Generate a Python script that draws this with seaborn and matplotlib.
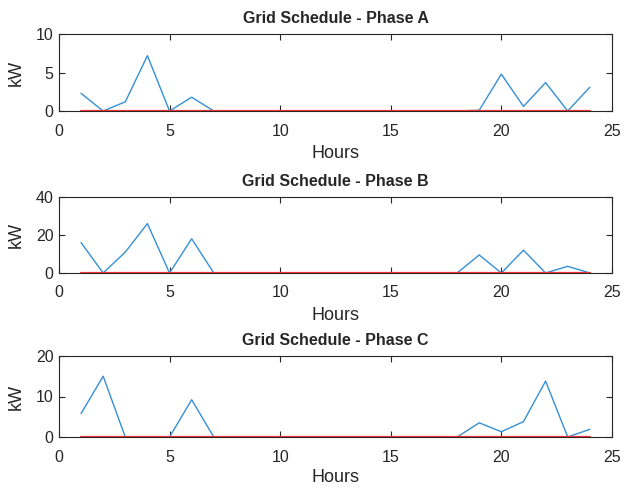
import numpy as np
import pandas as pd
import matplotlib
matplotlib.use("Agg")
import matplotlib.pyplot as plt
import seaborn as sns

hours = list(range(1, 25))
phase_a = [2.3, 0, 1.2, 7.2, 0, 1.8, 0, 0, 0, 0, 0, 0, 0, 0, 0, 0, 0, 0, 0.1, 4.8, 0.6, 3.7, 0, 3.1]
phase_b = [16, 0, 11, 26, 0, 18, 0, 0, 0, 0, 0, 0, 0, 0, 0, 0, 0, 0, 9.5, 0, 12, 0, 3.5, 0]
phase_c = [5.8, 15, 0, 0, 0, 9.2, 0, 0, 0, 0, 0, 0, 0, 0, 0, 0, 0, 0, 3.5, 1.3, 3.8, 13.8, 0, 1.9]
zero_line = [0] * 24
titles = ["Grid Schedule - Phase A", "Grid Schedule - Phase B", "Grid Schedule - Phase C"]
ylims = [10, 40, 20]
yticks = [[0, 5, 10], [0, 20, 40], [0, 10, 20]]
xticks = [0, 5, 10, 15, 20, 25]

sns.set_style("white")
plt.rcParams['font.family'] = ['Liberation Sans', 'DejaVu Sans']

fig = plt.figure(figsize=(6.27, 4.88), dpi=100)
positions = [
    [0.094, 0.7725, 0.882, 0.1575],
    [0.094, 0.4406, 0.882, 0.1557],
    [0.094, 0.1045, 0.882, 0.1660],
]
series = [phase_a, phase_b, phase_c]
for i, (pos, vals, title, ylim, yt) in enumerate(zip(positions, series, titles, ylims, yticks)):
    ax = fig.add_axes(pos)
    df = pd.DataFrame({"Hours": hours, "kW": vals, "zero": zero_line})
    sns.lineplot(data=df, x="Hours", y="kW", ax=ax, color="#3590d6", linewidth=1.0)
    sns.lineplot(data=df, x="Hours", y="zero", ax=ax, color="#ff3030", linewidth=1.6)
    ax.set_xlim(0, 25)
    ax.set_ylim(0, ylim)
    ax.set_xticks(xticks)
    ax.set_yticks(yt)
    ax.set_title(title, fontsize=11.5, fontweight="bold", pad=8)
    ax.set_xlabel("Hours", fontsize=13, labelpad=5 if i < 2 else 3)
    ax.set_ylabel("kW", fontsize=13, labelpad=8)
    ax.tick_params(direction="in", length=4, width=0.8, colors="#262626", labelsize=11.5,
                   top=True, right=True, bottom=True, left=True)
    ax.tick_params(axis="x", pad=9)
    ax.tick_params(axis="y", pad=4)
    for s in ax.spines.values():
        s.set_color("#262626")
        s.set_linewidth(0.8)

fig.savefig("out.png", dpi=100)
